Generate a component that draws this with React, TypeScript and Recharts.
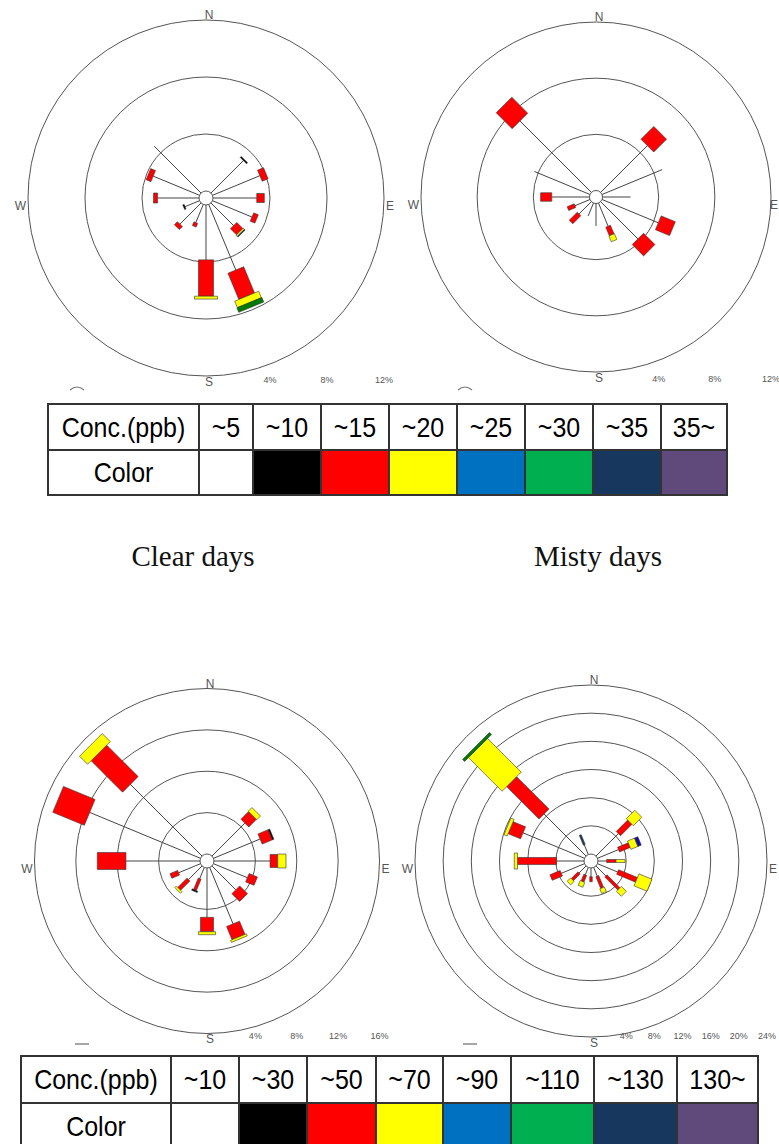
import { RadarChart, Radar, PolarGrid, PolarAngleAxis, PolarRadiusAxis } from "recharts";

const directions = ["N", "NNE", "NE", "ENE", "E", "ESE", "SE", "SSE", "S", "SSW", "SW", "WSW", "W", "WNW", "NW", "NNW"];
const compass = ["N", "E", "S", "W"];

// legend tables
const topClasses = ["~5", "~10", "~15", "~20", "~25", "~30", "~35", "35~"];
const bottomClasses = ["~10", "~30", "~50", "~70", "~90", "~110", "~130", "130~"];
const tableColors = ["#ffffff", "#000000", "#ff0000", "#ffff00", "#0070c0", "#00b050", "#17375e", "#604a7b"];
const roseColors = ["#ffffff", "#000000", "#ff0000", "#ffff00", "#1010a8", "#007a00", "#1f3864", "#604a7b"];

// class index: 0 ~5, 1 ~10 (black), 2 red, 3 yellow, 4 blue, 5 green, 6 navy, 7 purple
type Bar = [string, number, number, number]; // direction, class, outer %, weight

// thin line reach (%) per direction, N..NNW
const clearLine = [0, 0, 3.22, 3.6, 3.07, 3.0, 2.25, 4.98, 3.85, 1.38, 2.1, 1.1, 2.91, 3.52, 4.65, 0];
const clearBars: Bar[] = [
  ["NE", 1, 3.32, 9],
  ["ENE", 2, 4.05, 12],
  ["E", 2, 3.6, 9],
  ["ESE", 2, 3.35, 9],
  ["SE", 2, 2.85, 9], ["SE", 3, 2.97, 10], ["SE", 4, 3.04, 10],
  ["SSE", 2, 6.97, 17], ["SSE", 3, 7.46, 26], ["SSE", 5, 7.8, 27],
  ["S", 2, 6.4, 15], ["S", 3, 6.6, 23],
  ["SSW", 2, 1.66, 4],
  ["SW", 2, 2.4, 7],
  ["WSW", 1, 1.2, 5],
  ["W", 2, 3.19, 10],
  ["WNW", 2, 3.88, 12],
];

const mistyLine = [0, 0, 4.71, 4.64, 2.0, 4.34, 3.76, 1.79, 1.6, 1.0, 1.25, 1.16, 2.69, 4.28, 7.2, 0];
const mistyBars: Bar[] = [
  ["NE", 2, 6.0, 18],
  ["ESE", 2, 5.43, 15],
  ["SE", 2, 4.9, 16],
  ["SSE", 2, 2.45, 5], ["SSE", 3, 2.9, 6],
  ["SW", 2, 2.05, 5],
  ["WSW", 2, 1.7, 4],
  ["W", 2, 3.48, 8.5],
  ["NW", 2, 8.8, 22],
];

const clear2Line = [0, 0, 4.5, 4.88, 5.42, 3.55, 3.26, 5.9, 4.77, 1.16, 1.86, 2.3, 7.16, 11.6, 9.8, 0];
const clear2Bars: Bar[] = [
  ["NE", 2, 5.55, 11], ["NE", 3, 6.05, 12],
  ["ENE", 2, 5.95, 11], ["ENE", 1, 6.1, 11],
  ["E", 2, 6.16, 13], ["E", 3, 6.96, 14],
  ["ESE", 2, 4.42, 9],
  ["SE", 2, 4.32, 11],
  ["SSE", 2, 7.28, 14], ["SSE", 3, 7.5, 17],
  ["S", 2, 6.16, 13], ["S", 3, 6.45, 17],
  ["SSW", 2, 2.36, 3], ["SSW", 1, 2.5, 6],
  ["SW", 2, 3.13, 4], ["SW", 3, 3.34, 8],
  ["WSW", 2, 3.1, 5],
  ["W", 2, 9.93, 17],
  ["WNW", 2, 14.9, 28],
  ["NW", 2, 14.1, 22], ["NW", 3, 15.2, 32],
];

const misty2Line = [0, 0, 4.5, 3.24, 1.23, 3.1, 1.99, 1.34, 1.23, 1.13, 1.4, 3.58, 3.9, 9.45, 8.45, 1.49];
const misty2Bars: Bar[] = [
  ["NE", 2, 6.8, 6], ["NE", 3, 8.5, 10],
  ["ENE", 2, 4.88, 5], ["ENE", 3, 5.96, 9], ["ENE", 4, 6.47, 9],
  ["E", 2, 2.56, 3], ["E", 3, 3.84, 3],
  ["ESE", 2, 6.0, 5], ["ESE", 3, 8.0, 13],
  ["SE", 2, 4.6, 3], ["SE", 3, 5.6, 7],
  ["SSE", 2, 3.14, 3], ["SSE", 3, 3.85, 5],
  ["S", 2, 1.95, 2.5],
  ["SSW", 2, 2.15, 3], ["SSW", 3, 2.9, 5],
  ["SW", 2, 2.75, 3], ["SW", 3, 3.45, 5],
  ["WSW", 2, 5.14, 6],
  ["W", 2, 9.45, 7], ["W", 3, 9.9, 16],
  ["WNW", 2, 11.36, 13], ["WNW", 3, 11.85, 18],
  ["NW", 2, 14.94, 14], ["NW", 3, 21.7, 27], ["NW", 5, 22.1, 38],
  ["NNW", 6, 3.0, 2],
];

function buildRose(line: number[], bars: Bar[]) {
  const rows: any[] = directions.map((dir, i) => ({ dir, line: line[i] > 0 ? [0, line[i]] : null }));
  const reach = [...line];
  const layer = directions.map(() => 0);
  bars.forEach(([dir, cls, to, weight]) => {
    const i = directions.indexOf(dir);
    const k = layer[i]++;
    rows[i]["b" + k] = [reach[i], to];
    rows[i]["c" + k] = cls;
    rows[i]["w" + k] = weight;
    reach[i] = to;
  });
  return rows;
}

const LineShape = (props: any) => {
  const base = props.baseLinePoints || [];
  return (
    <g>
      {props.points.map((p: any, i: number) => {
        const b = base[i];
        if (!Array.isArray(p.value) || !b) return null;
        return <line key={i} x1={b.x} y1={b.y} x2={p.x} y2={p.y} stroke="#444" strokeWidth={1} />;
      })}
    </g>
  );
};

const barShape = (k: number) => (props: any) => {
  const base = props.baseLinePoints || [];
  return (
    <g>
      {props.points.map((p: any, i: number) => {
        const b = base[i];
        if (!Array.isArray(p.value) || !b) return null;
        const w = p.payload["w" + k];
        const cls = p.payload["c" + k];
        const dx = p.x - b.x;
        const dy = p.y - b.y;
        const len = Math.hypot(dx, dy) || 1;
        const nx = (-dy / len) * (w / 2);
        const ny = (dx / len) * (w / 2);
        const pts = [
          [b.x + nx, b.y + ny],
          [p.x + nx, p.y + ny],
          [p.x - nx, p.y - ny],
          [b.x - nx, b.y - ny],
        ];
        return (
          <polygon
            key={i}
            points={pts.map((q) => q.join(",")).join(" ")}
            fill={roseColors[cls]}
            stroke="#333"
            strokeWidth={0.6}
          />
        );
      })}
    </g>
  );
};

const compassTick = (eShift: number) => (props: any) => {
  const { x, y, payload } = props;
  const v = payload.value;
  if (!compass.includes(v)) return <g />;
  const anchor = v === "E" ? "start" : v === "W" ? "end" : "middle";
  const baseline = v === "N" ? "auto" : v === "S" ? "hanging" : "central";
  const dx = v === "N" || v === "S" ? 3 : v === "E" ? eShift : 0;
  const dy = v === "N" ? 1 : v === "S" ? -1 : 8;
  return (
    <text x={x + dx} y={y + dy} textAnchor={anchor} dominantBaseline={baseline} fontSize={12} fill="#555" fontFamily="Arial, sans-serif">
      {v}
    </text>
  );
};

const pctTick = (offset: number) => (props: any) => {
  const { x, y, payload } = props;
  if (payload.value === 0) return <g />;
  return (
    <text x={x} y={y + offset} textAnchor="middle" dominantBaseline="central" fontSize={9} fill="#555" fontFamily="Arial, sans-serif">
      {payload.value}%
    </text>
  );
};

function Rose({ line, bars, max, cx, cy, inner, outer, pctOffset, eShift = 0 }: any) {
  const rows = buildRose(line, bars);
  const size = 400;
  const ticks = [];
  for (let t = 0; t <= max; t += 4) ticks.push(t);
  return (
    <div style={{ position: "absolute", left: cx - size / 2, top: cy - size / 2 }}>
      <RadarChart
        width={size}
        height={size}
        data={rows}
        cx={size / 2}
        cy={size / 2}
        innerRadius={inner}
        outerRadius={outer}
        margin={{ top: 0, right: 0, bottom: 0, left: 0 }}
      >
        <PolarGrid gridType="circle" radialLines={false} stroke="#555" strokeWidth={1} />
        <PolarAngleAxis dataKey="dir" tick={compassTick(eShift)} tickLine={false} axisLine={false} tickSize={2} />
        <PolarRadiusAxis
          type="number"
          domain={[0, max]}
          ticks={ticks}
          tickCount={ticks.length}
          angle={0}
          axisLine={false}
          tickLine={false}
          tick={pctTick(pctOffset)}
        />
        <Radar dataKey="line" shape={LineShape} isAnimationActive={false} dot={false} />
        <Radar dataKey="b0" shape={barShape(0)} isAnimationActive={false} dot={false} />
        <Radar dataKey="b1" shape={barShape(1)} isAnimationActive={false} dot={false} />
        <Radar dataKey="b2" shape={barShape(2)} isAnimationActive={false} dot={false} />
      </RadarChart>
    </div>
  );
}

const cell: any = {
  border: "2px solid #333",
  padding: 0,
  textAlign: "center",
  verticalAlign: "middle",
  overflow: "hidden",
  whiteSpace: "nowrap",
};

const tall: any = { display: "inline-block", transform: "scaleY(1.12)" };

function Legend({ left, top, widths, heights, labels }: any) {
  const total = widths.reduce((a: number, b: number) => a + b, 0);
  return (
    <table
      style={{
        position: "absolute",
        left,
        top,
        width: total,
        borderCollapse: "collapse",
        tableLayout: "fixed",
        fontFamily: "'Liberation Sans', Arial, sans-serif",
        fontSize: 25,
        color: "#000",
      }}
    >
      <colgroup>
        {widths.map((w: number, i: number) => (
          <col key={i} style={{ width: w }} />
        ))}
      </colgroup>
      <tbody>
        <tr style={{ height: heights[0] }}>
          <td style={cell}><span style={tall}>Conc.(ppb)</span></td>
          {labels.map((l: string, i: number) => (
            <td key={i} style={cell}><span style={tall}>{l}</span></td>
          ))}
        </tr>
        <tr style={{ height: heights[1] }}>
          <td style={cell}><span style={tall}>Color</span></td>
          {tableColors.map((c, i) => (
            <td key={i} style={{ ...cell, background: c }} />
          ))}
        </tr>
      </tbody>
    </table>
  );
}

const title: any = {
  position: "absolute",
  width: 240,
  textAlign: "center",
  fontFamily: "'Liberation Serif', 'Times New Roman', serif",
  fontSize: 29,
  lineHeight: "29px",
  color: "#111",
};

export default function App() {
  return (
    <div style={{ position: "absolute", left: 0, top: 0, width: 779, height: 1144, overflow: "hidden", background: "#fff" }}>
      <Rose line={clearLine} bars={clearBars} max={12} cx={206} cy={197.5} inner={7} outer={178} pctOffset={181.5} />
      <Rose line={mistyLine} bars={mistyBars} max={12} cx={596} cy={197} inner={6.5} outer={175} pctOffset={182} eShift={-3} />
      <svg width={779} height={1144} style={{ position: "absolute", left: 0, top: 0, pointerEvents: "none" }}>
        <path d="M70 390 Q77 384 84 390" fill="none" stroke="#777" strokeWidth={1.2} />
        <path d="M458 390 Q465 384 472 390" fill="none" stroke="#777" strokeWidth={1.2} />
        <path d="M75 1044 L89 1044" fill="none" stroke="#888" strokeWidth={1.5} />
        <path d="M463 1044 L477 1044" fill="none" stroke="#888" strokeWidth={1.5} />
      </svg>
      <Legend left={47} top={403} widths={[151, 54, 68, 68, 68, 68, 68, 68, 66]} heights={[46, 45]} labels={topClasses} />
      <div style={{ ...title, left: 73, top: 542 }}>Clear days</div>
      <div style={{ ...title, left: 478, top: 542 }}>Misty days</div>
      <Rose line={clear2Line} bars={clear2Bars} max={16} cx={207} cy={861} inner={7} outer={172.5} pctOffset={175} />
      <Rose line={misty2Line} bars={misty2Bars} max={24} cx={591} cy={861} inner={7} outer={176} pctOffset={175} />
      <Legend left={20} top={1055} widths={[150, 68, 68, 69, 67, 68, 83, 83, 81]} heights={[47, 47]} labels={bottomClasses} />
    </div>
  );
}
